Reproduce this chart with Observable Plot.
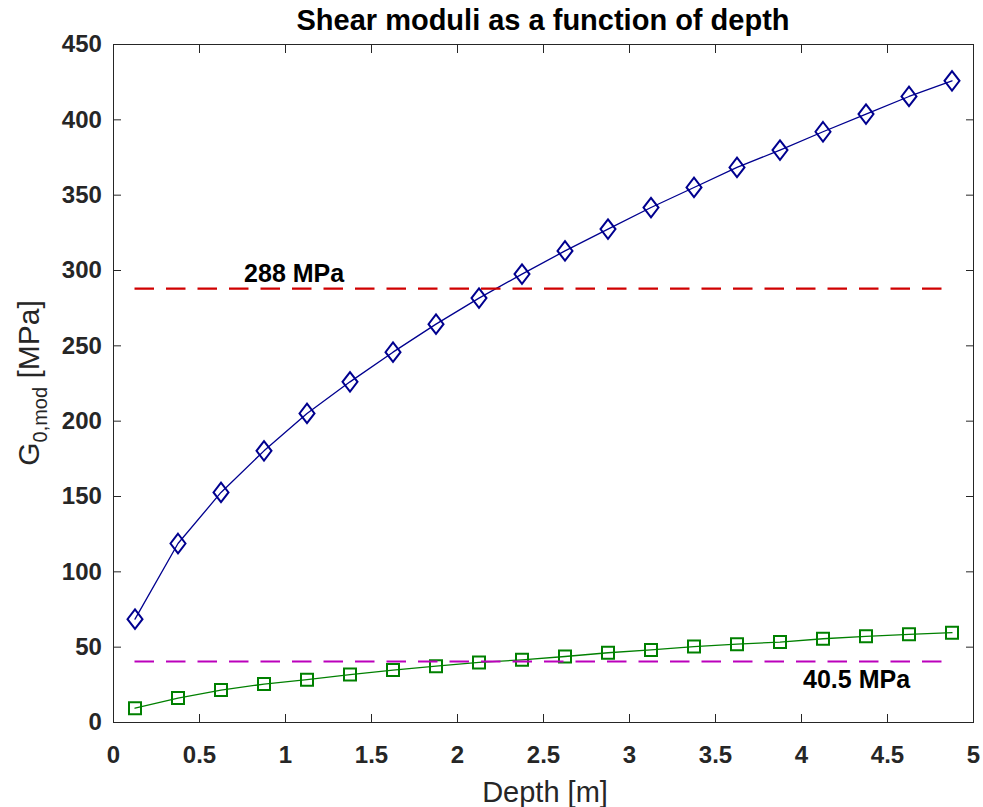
<!DOCTYPE html>
<html><head><meta charset="utf-8">
<script src="https://cdn.jsdelivr.net/npm/d3@7"></script>
<script src="https://cdn.jsdelivr.net/npm/@observablehq/plot@0.6"></script>
<style>
body{margin:0;background:#fff;}
#title{height:38px;box-sizing:border-box;padding-top:3px;margin-left:113px;width:860px;text-align:center;font:bold 29px Arial,"Liberation Sans",sans-serif;line-height:34px;color:#000;white-space:nowrap;}
#chart svg{overflow:visible}
</style></head><body>
<div id="title">Shear moduli as a function of depth</div>
<div id="chart"></div>
<script>
const depth = [0.125, 0.375, 0.625, 0.875, 1.125, 1.375, 1.625, 1.875, 2.125, 2.375,
               2.625, 2.875, 3.125, 3.375, 3.625, 3.875, 4.125, 4.375, 4.625, 4.875];
const gDiamond = [68.6, 118.8, 152.7, 180.3, 205.1, 226.1, 245.8, 264.4, 281.7, 297.6,
                  313.0, 327.5, 341.8, 355.1, 368.4, 379.9, 392.1, 403.8, 415.5, 425.9];
const gSquare = [9.5, 16.2, 21.5, 25.5, 28.4, 31.8, 34.8, 37.4, 39.9, 41.6,
                 43.8, 46.3, 48.2, 50.4, 52.0, 53.4, 55.6, 57.2, 58.5, 59.6];
const refLevels = [288, 40.5];
const refLabels = ["288 MPa", "40.5 MPa"];
const refLabelDepth = [1.05, 4.32];
const xTicks = [0, 0.5, 1, 1.5, 2, 2.5, 3, 3.5, 4, 4.5, 5];
const xTickLabels = ["0", "0.5", "1", "1.5", "2", "2.5", "3", "3.5", "4", "4.5", "5"];
const yTicks = [0, 50, 100, 150, 200, 250, 300, 350, 400, 450];
const yTickLabels = ["0", "50", "100", "150", "200", "250", "300", "350", "400", "450"];
const titleText = "Shear moduli as a function of depth";
const xLabel = "Depth [m]";
const yLabelMain = "G", yLabelSub = "0,mod", yLabelUnit = " [MPa]";

const FONT = 'Arial, "Liberation Sans", Helvetica, sans-serif';
const high = depth.map((d, i) => ({depth: d, g: gDiamond[i]}));
const low = depth.map((d, i) => ({depth: d, g: gSquare[i]}));
const refs = refLevels.map((v, i) => ({level: v, label: refLabels[i], depth: refLabelDepth[i]}));

const diamondSym = {draw(ctx, size) {
  const s = Math.sqrt(size / Math.PI);
  ctx.moveTo(0, -s * 1.3); ctx.lineTo(s, 0); ctx.lineTo(0, s * 1.3); ctx.lineTo(-s, 0); ctx.closePath();
}};
const squareSym = {draw(ctx, size) {
  const s = Math.sqrt(size / Math.PI);
  ctx.rect(-s, -s, 2 * s, 2 * s);
}};

const BLUE = "#00008f", GREEN = "#008000", RED = "#d00000", MAG = "#bb00bb";

const svg = Plot.plot({
  width: 983, height: 769,
  marginTop: 6, marginRight: 10, marginBottom: 85, marginLeft: 113,
  x: {domain: [0, 5]},
  y: {domain: [0, 450]},
  style: {fontFamily: FONT, fontSize: "24px", color: "#262626", background: "white", overflow: "visible"},
  marks: [
    Plot.line(high, {x: "depth", y: "g", stroke: BLUE, strokeWidth: 1.3}),
    Plot.line(low, {x: "depth", y: "g", stroke: GREEN, strokeWidth: 1.3}),
    Plot.dot(high, {x: "depth", y: "g", symbol: diamondSym, r: 7.5, stroke: BLUE, strokeWidth: 2, fill: "none"}),
    Plot.dot(low, {x: "depth", y: "g", symbol: squareSym, r: 6, stroke: GREEN, strokeWidth: 2, fill: "none"}),
    Plot.ruleY([refs[0]], {y: "level", x1: depth[0], x2: depth[depth.length - 1], stroke: RED, strokeWidth: 2.2, strokeDasharray: "19.5,12"}),
    Plot.ruleY([refs[1]], {y: "level", x1: depth[0], x2: depth[depth.length - 1], stroke: MAG, strokeWidth: 2.2, strokeDasharray: "19.5,12"}),
    Plot.text([refs[0]], {x: "depth", y: "level", text: "label", dy: -15, fontSize: 25, fontWeight: "bold", fill: "#000"}),
    Plot.text([refs[1]], {x: "depth", y: "level", text: "label", dy: 19, fontSize: 25, fontWeight: "bold", fill: "#000"}),
    Plot.frame({stroke: "#262626", strokeWidth: 1}),
    Plot.axisX({ticks: xTicks, tickFormat: d => xTickLabels[xTicks.indexOf(d)], tickSize: -8, tickPadding: 31, label: null, fontWeight: "bold"}),
    Plot.axisX({anchor: "top", ticks: xTicks, tickFormat: () => "", tickSize: -8, label: null}),
    Plot.axisY({ticks: yTicks, tickFormat: d => yTickLabels[yTicks.indexOf(d)], tickSize: -8, tickPadding: 19.6, label: null, fontWeight: "bold"}),
    Plot.axisY({anchor: "right", ticks: yTicks, tickFormat: () => "", tickSize: -8, label: null})
  ]
});
document.getElementById("chart").appendChild(svg);

const s = d3.select(svg);
s.append("text")
  .attr("x", 545).attr("y", 764)
  .attr("text-anchor", "middle")
  .attr("font-family", FONT).attr("font-size", 29).attr("fill", "#262626")
  .text(xLabel);
const yl = s.append("text")
  .attr("transform", "translate(39,345) rotate(-90)")
  .attr("text-anchor", "middle")
  .attr("font-family", FONT).attr("font-size", 30).attr("fill", "#262626");
yl.append("tspan").text(yLabelMain);
yl.append("tspan").attr("font-size", 20).attr("dy", 8).text(yLabelSub);
yl.append("tspan").attr("dy", -8).text(yLabelUnit);
</script>
</body></html>
